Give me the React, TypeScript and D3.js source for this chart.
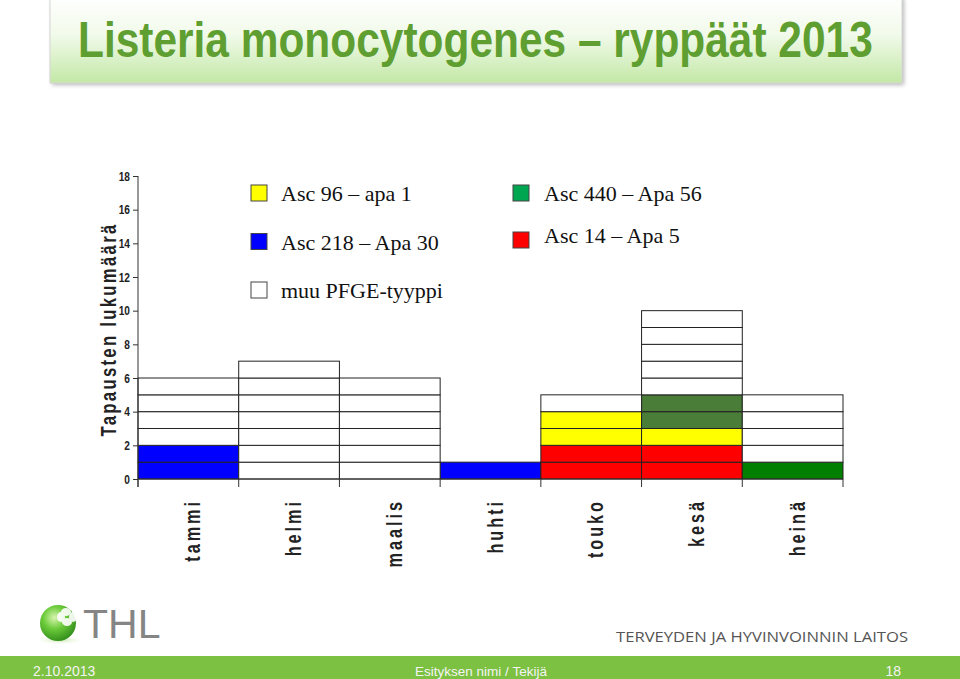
import { useEffect, useRef } from 'react'
import * as d3 from 'd3'

// ── Data ─────────────────────────────────────────────────────────────────────
const months = ['tammi', 'helmi', 'maalis', 'huhti', 'touko', 'kesä', 'heinä']

// cases per month, per cluster (stack order bottom → top)
const asc218 = [2, 0, 0, 1, 0, 0, 0]
const asc14 = [0, 0, 0, 0, 2, 2, 0]
const asc96 = [0, 0, 0, 0, 2, 1, 0]
const asc440Kesa = [0, 0, 0, 0, 0, 2, 0]
const asc440Heina = [0, 0, 0, 0, 0, 0, 1]
const muu = [4, 7, 6, 0, 1, 5, 4]

const yTicks = [0, 2, 4, 6, 8, 10, 12, 14, 16, 18]

const legendCol1 = [
  { label: 'Asc 96 – apa 1', color: '#ffff00' },
  { label: 'Asc 218 – Apa 30', color: '#0000ff' },
  { label: 'muu PFGE-tyyppi', color: '#ffffff' },
]
const legendCol2 = [
  { label: 'Asc 440 – Apa 56', color: '#00a650' },
  { label: 'Asc 14 – Apa 5', color: '#ff0000' },
]

const SERIES = [
  { key: 'asc218', values: asc218, color: '#0000ff' },
  { key: 'asc14', values: asc14, color: '#ff0000' },
  { key: 'asc96', values: asc96, color: '#ffff00' },
  { key: 'asc440k', values: asc440Kesa, color: '#4a7e38' },
  { key: 'asc440h', values: asc440Heina, color: '#007f00' },
  { key: 'muu', values: muu, color: '#ffffff' },
]

const W = 960
const H = 679
const SANS = '"Liberation Sans", Arial, sans-serif'
const SERIF = '"Liberation Serif", "Times New Roman", serif'

export default function App() {
  const axisRef = useRef<SVGGElement>(null)

  const x = d3.scaleBand<string>().domain(months).range([138, 843]).padding(0)
  const y = d3.scaleLinear().domain([0, 18]).range([479, 176])

  const rows = months.map((m, i) => {
    const r: Record<string, number | string> = { month: m }
    SERIES.forEach(s => { r[s.key] = s.values[i] })
    return r
  })
  const stacked = d3.stack<Record<string, number | string>>()
    .keys(SERIES.map(s => s.key))
    .value((d, k) => d[k] as number)(rows)

  // one rect per case
  const cells: { x: number; y0: number; y1: number; color: string; id: string }[] = []
  stacked.forEach((layer, li) => {
    layer.forEach((seg, mi) => {
      const [b, t] = seg
      for (let k = b; k < t; k++) {
        cells.push({
          x: x(months[mi])!, y0: y(k), y1: y(k + 1),
          color: SERIES[li].color, id: `${li}-${mi}-${k}`,
        })
      }
    })
  })

  const bw = x.bandwidth()
  const boundaries = [...months.map(m => x(m)!), x(months[months.length - 1])! + bw]

  useEffect(() => {
    const g = d3.select(axisRef.current)
    g.selectAll('*').remove()
    g.call(d3.axisLeft(y).tickValues(yTicks).tickSize(5).tickFormat(d3.format('d')))
      .call(a => a.select('.domain').remove())
      .call(a => a.selectAll('.tick line').attr('stroke', '#333'))
      .call(a => a.selectAll('.tick text')
        .attr('font-family', SANS).attr('font-weight', 'bold').attr('font-size', 13)
        .attr('fill', '#222').attr('transform', 'scale(0.78,1)')
        .attr('x', -8 / 0.78))
  }, [])

  return (
    <svg width={W} height={H} style={{ position: 'absolute', left: 0, top: 0, background: '#fff' }}>
      <defs>
        <linearGradient id="titleGrad" x1="0" y1="0" x2="0" y2="1">
          <stop offset="0" stopColor="#ffffff" />
          <stop offset="0.45" stopColor="#f1faea" />
          <stop offset="1" stopColor="#c3e8a6" />
        </linearGradient>
        <filter id="shadow" x="-5%" y="-20%" width="110%" height="150%">
          <feGaussianBlur stdDeviation="2" />
        </filter>
        <radialGradient id="sphere" cx="0.4" cy="0.35" r="0.7">
          <stop offset="0" stopColor="#d8f5b0" />
          <stop offset="0.45" stopColor="#6ccb3a" />
          <stop offset="1" stopColor="#2f8a1a" />
        </radialGradient>
        <radialGradient id="reflect" cx="0.5" cy="0.5" r="0.5">
          <stop offset="0" stopColor="#bfe6a0" stopOpacity="0.9" />
          <stop offset="1" stopColor="#ffffff" stopOpacity="0" />
        </radialGradient>
      </defs>

      {/* ── Title box ─────────────────────────────────────────────────────── */}
      <rect x={52} y={-2} width={852} height={87} fill="#888" opacity={0.6} filter="url(#shadow)" />
      <rect x={50} y={-4} width={852} height={87} fill="url(#titleGrad)" stroke="#d6d6d6" strokeWidth={1} />
      <text transform="translate(78,57) scale(0.849,1)" fontFamily={SANS} fontWeight="bold"
        fontSize={50} fill="#5f9e31">
        Listeria monocytogenes – ryppäät 2013
      </text>

      {/* ── Legend ───────────────────────────────────────────────────────── */}
      {legendCol1.map((d, i) => (
        <g key={d.label} transform={`translate(251,${185 + i * 48.5})`}>
          <rect width={16} height={16} fill={d.color} stroke="#444" strokeWidth={1} />
          <text x={30} y={16} fontFamily={SERIF} fontSize={22} fill="#111">{d.label}</text>
        </g>
      ))}
      {legendCol2.map((d, i) => (
        <g key={d.label} transform={`translate(513,${185 + i * 47})`}>
          <rect width={16} height={16} fill={d.color} stroke="#444" strokeWidth={1} />
          <text x={31} y={16 - i * 5} fontFamily={SERIF} fontSize={22} fill="#111">{d.label}</text>
        </g>
      ))}

      {/* ── Bars (one cell per case) ─────────────────────────────────────── */}
      {cells.map(c => (
        <rect key={c.id} x={c.x} y={c.y1} width={bw} height={c.y0 - c.y1}
          fill={c.color} stroke="#222" strokeWidth={1} />
      ))}

      {/* ── Axes ─────────────────────────────────────────────────────────── */}
      <g ref={axisRef} transform="translate(138,0)" />
      <line x1={138} x2={138} y1={y(18)} y2={487} stroke="#333" strokeWidth={1} />
      <line x1={138} x2={843} y1={y(0)} y2={y(0)} stroke="#333" strokeWidth={1} />
      {boundaries.map(b => (
        <line key={b} x1={b} x2={b} y1={y(0)} y2={487} stroke="#333" strokeWidth={1} />
      ))}
      <text transform={`translate(116,${(y(0) + y(18)) / 2 + 2}) rotate(-90)`} textAnchor="middle"
        fontFamily={SANS} fontWeight="bold" fontSize={22} fill="#222" letterSpacing={3}
        textLength={214} lengthAdjust="spacingAndGlyphs">
        Tapausten lukumäärä
      </text>
      {months.map(m => (
        <text key={m} transform={`translate(${x(m)! + bw / 2 + 12},499) rotate(-90) scale(0.74,1)`}
          textAnchor="end" fontFamily={SANS} fontWeight="bold" fontSize={22} fill="#222"
          letterSpacing={4}>
          {m}
        </text>
      ))}

      {/* ── Footer ───────────────────────────────────────────────────────── */}
      <ellipse cx={60} cy={640} rx={26} ry={5} fill="url(#reflect)" />
      <circle cx={58} cy={623} r={18} fill="url(#sphere)" />
      <g fill="#ffffff" opacity={0.9}>
        <ellipse cx={66} cy={612} rx={5} ry={4} />
        <ellipse cx={73} cy={617} rx={4} ry={5} />
        <ellipse cx={67} cy={622} rx={5} ry={4} />
        <ellipse cx={61} cy={617} rx={4} ry={5} />
      </g>
      <text x={83} y={638} fontFamily={SANS} fontSize={41} fill="#858585">THL</text>
      <text x={616} y={642} fontFamily='"Open Sans", "Liberation Sans", sans-serif' fontSize={15}
        fill="#555" textLength={292} lengthAdjust="spacingAndGlyphs">
        TERVEYDEN JA HYVINVOINNIN LAITOS
      </text>
      <rect x={0} y={656} width={W} height={H - 656} fill="#7cc142" />
      <text x={33} y={676} fontFamily={SANS} fontSize={14} fill="#f4f4f4">2.10.2013</text>
      <text x={481} y={676} textAnchor="middle" fontFamily={SANS} fontSize={13.5} fill="#f4f4f4">
        Esityksen nimi / Tekijä
      </text>
      <text x={901} y={676} textAnchor="end" fontFamily={SANS} fontSize={14} fill="#f4f4f4">18</text>
    </svg>
  )
}
